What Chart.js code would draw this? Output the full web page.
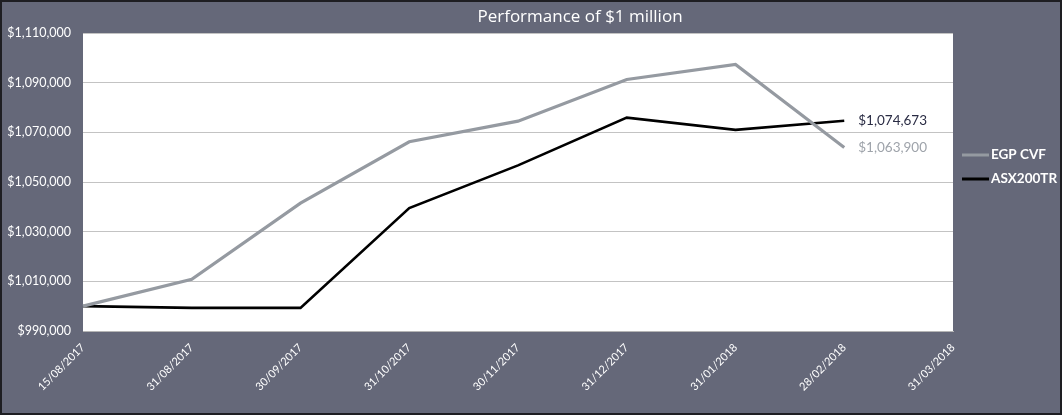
<!DOCTYPE html>
<html>
<head>
<meta charset="utf-8">
<script src="https://cdn.jsdelivr.net/npm/chart.js@4"></script>
<style>
  html, body { margin: 0; padding: 0; background: #656879; }
  #wrap { width: 1062px; height: 415px; }
</style>
</head>
<body>
<div id="wrap"><canvas id="c"></canvas></div>
<script>
// month-end dates (last one has no value yet)
const dates = ["15/08/2017", "31/08/2017", "30/09/2017", "31/10/2017", "30/11/2017",
  "31/12/2017", "31/01/2018", "28/02/2018", "31/03/2018"];
const egpCvf = [1000000, 1010800, 1041500, 1066200, 1074500, 1091300, 1097300, 1063900];
const asx200tr = [1000000, 999300, 999300, 1039500, 1056700, 1075900, 1071000, 1074673];
const yTicks = { min: 990000, max: 1110000, step: 20000 };

const BG = "#656879";
const GREY = "#959aa1";
const FONT = "Lato, 'Open Sans', sans-serif";

const money = (v) => "$" + Math.round(v).toLocaleString("en-US");

// frame + white plot area, end labels, legend, title
const decor = {
  id: "decor",
  beforeDraw(chart) {
    const { ctx, chartArea: a, width, height } = chart;
    ctx.save();
    ctx.fillStyle = BG;
    ctx.fillRect(0, 0, width, height);
    ctx.strokeStyle = "#1e1e22";
    ctx.lineWidth = 2;
    ctx.strokeRect(1, 1, width - 2, height - 2);
    ctx.fillStyle = "#ffffff";
    ctx.fillRect(a.left, a.top, a.right - a.left, a.bottom - a.top);
    ctx.restore();
  },
  afterDraw(chart) {
    const { ctx } = chart;
    ctx.save();
    // title
    ctx.fillStyle = "#ffffff";
    ctx.font = "17px 'Open Sans', sans-serif";
    ctx.textAlign = "center";
    ctx.textBaseline = "middle";
    ctx.fillText("Performance of $1 million", 580, 17);

    // closing values next to the last point of each line
    ctx.font = "13.5px " + FONT;
    ctx.textAlign = "left";
    const endColors = ["#9ea3aa", "#2a2c44"];
    chart.data.datasets.forEach((ds, i) => {
      const pt = chart.getDatasetMeta(i).data[ds.data.length - 1];
      ctx.fillStyle = endColors[i];
      ctx.fillText(money(ds.data[ds.data.length - 1]), pt.x + 14, pt.y);
    });

    // legend on the right
    ctx.font = "bold 13.5px " + FONT;
    chart.data.datasets.forEach((ds, i) => {
      const y = 155 + i * 24;
      ctx.strokeStyle = ds.borderColor;
      ctx.lineWidth = 3;
      ctx.beginPath();
      ctx.moveTo(962, y);
      ctx.lineTo(989, y);
      ctx.stroke();
      ctx.fillStyle = "#ffffff";
      ctx.fillText(ds.label, 991, y);
    });
    ctx.restore();
  }
};

new Chart(document.getElementById("c"), {
  type: "line",
  data: {
    labels: dates,
    datasets: [
      { label: "EGP CVF", data: egpCvf, borderColor: GREY, borderWidth: 3.2,
        pointRadius: 0, tension: 0, fill: false },
      { label: "ASX200TR", data: asx200tr, borderColor: "#000000", borderWidth: 2.6,
        pointRadius: 0, tension: 0, fill: false },
    ],
  },
  options: {
    responsive: true,
    maintainAspectRatio: false,
    animation: false,
    layout: { padding: { top: 33, right: 109, left: 0, bottom: 0 } },
    plugins: { legend: { display: false }, tooltip: { enabled: false } },
    scales: {
      x: {
        type: "category",
        offset: false,
        grid: { display: false, drawTicks: false },
        border: { display: true, color: "#b5b5b5", width: 1 },
        ticks: { color: "#ffffff", font: { family: FONT, size: 11 }, minRotation: 45, maxRotation: 45, padding: 10, autoSkip: false },
        afterFit: (s) => { s.height = 84; },
      },
      y: {
        min: yTicks.min,
        max: yTicks.max,
        grid: { color: "#c3c3c3", lineWidth: 1, drawTicks: false },
        border: { display: false },
        ticks: { stepSize: yTicks.step, color: "#ffffff", font: { family: FONT, size: 12.5 }, padding: 12, callback: (v) => money(v) },
        afterFit: (s) => { s.width = 83; },
      },
    },
  },
  plugins: [decor],
});
</script>
</body>
</html>
